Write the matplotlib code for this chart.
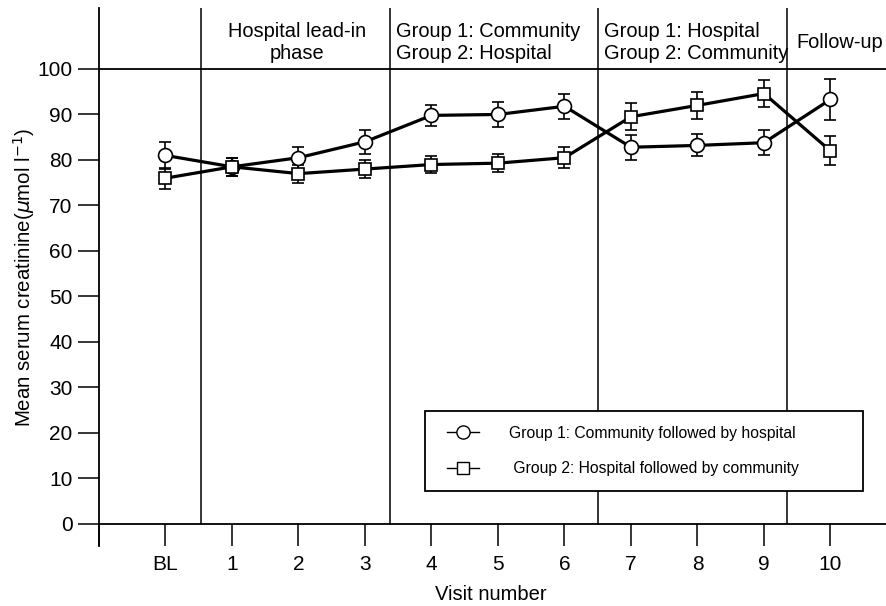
import matplotlib
matplotlib.use("Agg")
import matplotlib.pyplot as plt
from matplotlib.lines import Line2D
from matplotlib.legend_handler import HandlerLine2D

plt.rcParams['font.family'] = ['Liberation Sans', 'DejaVu Sans']
plt.rcParams['mathtext.fontset'] = 'dejavusans'

# ---- data ----
visit_labels = ['BL', '1', '2', '3', '4', '5', '6', '7', '8', '9', '10']
group1_mean = [81.0, 78.5, 80.5, 84.0, 89.8, 90.0, 91.8, 82.8, 83.2, 83.8, 93.3]
group1_err = [3.0, 2.0, 2.4, 2.6, 2.3, 2.8, 2.8, 2.7, 2.4, 2.8, 4.6]
group2_mean = [76.0, 78.5, 77.0, 78.0, 79.0, 79.3, 80.5, 89.5, 92.0, 94.6, 82.0]
group2_err = [2.3, 2.0, 2.0, 2.0, 1.8, 2.0, 2.3, 3.0, 3.0, 3.0, 3.2]
phase_titles = ['Hospital lead-in\nphase',
                'Group 1: Community\nGroup 2: Hospital',
                'Group 1: Hospital\nGroup 2: Community',
                'Follow-up']
legend_labels = ['Group 1: Community followed by hospital',
                 ' Group 2: Hospital followed by community']

W, H = 887, 606
fig = plt.figure(figsize=(W / 100, H / 100), dpi=100)
ax = fig.add_axes([99 / W, (H - 546) / H, 788 / W, 538 / H])

xs = list(range(1, len(visit_labels) + 1))
ymin, ymax = -4.835, 113.4
ax.set_xlim(0, 11.85)
ax.set_ylim(ymin, ymax)

FS = 15
HFS = 14.4

# separators
dividers = [1.53, 4.38, 7.50, 10.35]
ax.vlines(dividers, 0, ymax, color='black', lw=1.1, zorder=1)
ax.axhline(100, color='black', lw=1.3, zorder=1)

err_kw = dict(ecolor='black', elinewidth=1.2, capsize=4.5, capthick=1.2)
ax.errorbar(xs, group1_mean, yerr=group1_err, fmt='none', zorder=2, **err_kw)
ax.errorbar(xs, group2_mean, yerr=group2_err, fmt='none', zorder=2, **err_kw)
ax.plot(xs, group1_mean, color='black', lw=2.3, marker='o', ms=10,
        mfc='white', mec='black', mew=1.2, zorder=3)
ax.plot(xs, group2_mean, color='black', lw=2.3, marker='s', ms=9,
        mfc='white', mec='black', mew=1.2, zorder=3)

# spines
for s in ['top', 'right']:
    ax.spines[s].set_visible(False)
ax.spines['bottom'].set_position(('data', 0))
ax.spines['bottom'].set_linewidth(1.3)
ax.spines['left'].set_linewidth(1.3)

ax.set_xticks([0] + xs)
ax.set_xticklabels([''] + visit_labels)
ax.set_yticks(range(0, 101, 10))
ax.tick_params(axis='x', direction='out', length=15.5, width=1.1, pad=7,
               labelsize=FS)
ax.tick_params(axis='y', direction='out', length=15, width=1.1, pad=4,
               labelsize=FS)

ax.set_ylabel(r'Mean serum creatinine($\mu$mol l$^{-1}$)', fontsize=14.7)
ax.yaxis.set_label_coords(-0.079, 0.5)
fig.text(491 / W, 1 - 595 / H, 'Visit number', ha='center', va='center',
         fontsize=14.5)

# phase titles (one text per line, placed on baselines)
def yb(px):
    return (524 - px) / 4.55

for x, title, ha in [(2.985, phase_titles[0], 'center'),
                     (4.47, phase_titles[1], 'left'),
                     (7.59, phase_titles[2], 'left')]:
    l1, l2 = title.split('\n')
    ax.text(x, yb(37), l1, ha=ha, va='baseline', fontsize=HFS)
    ax.text(x, yb(59.5), l2, ha=ha, va='baseline', fontsize=HFS)
ax.text(10.48, yb(48.5), phase_titles[3], ha='left', va='baseline', fontsize=HFS)

LFS = 11.3
handles = [Line2D([], [], color='black', lw=1.0, marker='o', ms=9.5,
                  mfc='white', mec='black', mew=1.0),
           Line2D([], [], color='black', lw=1.0, marker='s', ms=8.5,
                  mfc='white', mec='black', mew=1.0)]
hmap = {h: HandlerLine2D(xpad=0.45) for h in handles}
leg = ax.legend(handles, legend_labels, loc='lower left',
                bbox_to_anchor=(425 / W, 1 - 491 / H, 438 / W, 79 / H),
                bbox_transform=fig.transFigure, mode='expand',
                fontsize=LFS, handler_map=hmap,
                frameon=True, fancybox=False, edgecolor='black',
                framealpha=1, handlelength=2.5, handletextpad=1.9,
                labelspacing=1.3, borderpad=0.95, borderaxespad=0)
leg.get_frame().set_linewidth(1.3)
leg.set_zorder(5)

fig.savefig('out.png', dpi=100)
